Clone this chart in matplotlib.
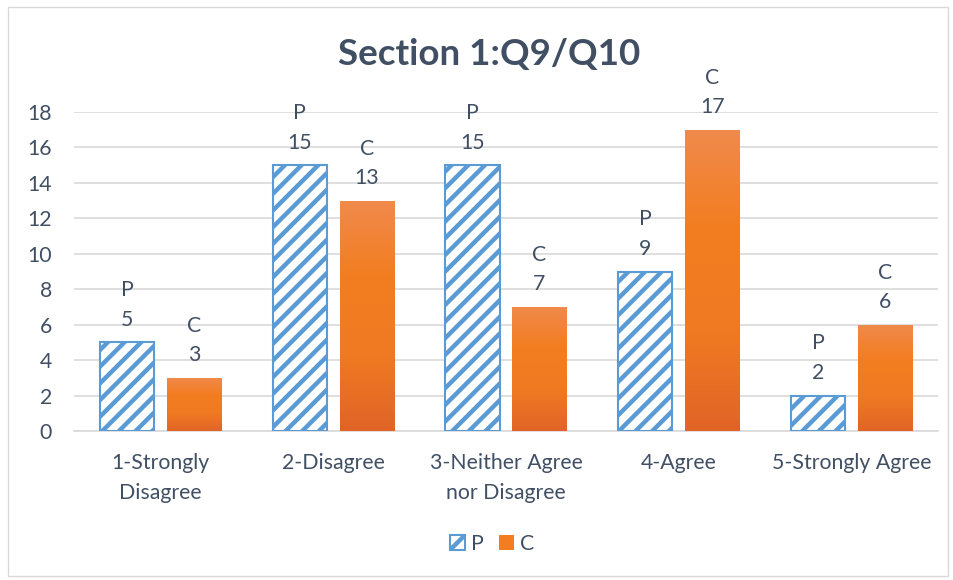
import matplotlib
matplotlib.use("Agg")
import matplotlib.pyplot as plt
import numpy as np
from matplotlib.colors import LinearSegmentedColormap
from matplotlib.patches import Rectangle, Patch

plt.rcParams['font.family'] = ['Lato', 'DejaVu Sans']
plt.rcParams['hatch.linewidth'] = 3.2

categories = ["1-Strongly\nDisagree", "2-Disagree", "3-Neither Agree\nnor Disagree",
              "4-Agree", "5-Strongly Agree"]
p_values = [5, 15, 15, 9, 2]
c_values = [3, 13, 7, 17, 6]
series_names = ["P", "C"]
yticks = [0, 2, 4, 6, 8, 10, 12, 14, 16, 18]

text_color = "#404F63"
blue = "#5B9BD5"
grid_color = "#D9D9D9"
fs = 15.3

fig = plt.figure(figsize=(9.54, 5.8), dpi=100)
fig.patch.set_facecolor("white")
fig.patches.append(Rectangle((8 / 954, 4 / 580), 940 / 954, 569 / 580,
                             transform=fig.transFigure, fill=False,
                             edgecolor="#D9D9D9", linewidth=1.0))

ax = fig.add_axes([74 / 954, 149 / 580, 864 / 954, 319 / 580])
x = np.arange(len(categories))
width = 0.313
offset = 0.194

p_bars = ax.bar(x - offset, p_values, width, facecolor="white", edgecolor=blue,
                hatch="//", linewidth=1.5, label=series_names[0], zorder=3)
c_bars = ax.bar(x + offset, c_values, width, facecolor="none", edgecolor="none",
                label=series_names[1], zorder=3)

# vertical gradient fill for each C bar
orange_cmap = LinearSegmentedColormap.from_list(
    "orange_grad", ["#E16427", "#F07A22", "#F37D20", "#F08A4C"])
grad = np.linspace(0, 1, 256).reshape(-1, 1)
for bar in c_bars:
    bx, by = bar.get_x(), bar.get_y()
    bw, bh = bar.get_width(), bar.get_height()
    im = ax.imshow(grad, cmap=orange_cmap, origin="lower", aspect="auto",
                   extent=[bx, bx + bw, by, by + bh], zorder=3,
                   interpolation="bilinear")
    im.set_clip_path(bar)

# labels above bars
for bars, vals, name in [(p_bars, p_values, "P"), (c_bars, c_values, "C")]:
    for bar, v in zip(bars, vals):
        ax.annotate(f"{name}\n{v}", (bar.get_x() + bar.get_width() / 2, v),
                    xytext=(0, 9), textcoords="offset points",
                    ha="center", va="bottom", fontsize=fs, color=text_color,
                    linespacing=1.6)

ax.set_xlim(-0.5, len(categories) - 0.5)
ax.set_ylim(0, 18)
ax.set_yticks(yticks)
ax.set_xticks(x)
ax.set_xticklabels(categories, linespacing=1.6)
ax.tick_params(axis="both", length=0, labelsize=fs, labelcolor=text_color)
ax.tick_params(axis="y", pad=16)
ax.tick_params(axis="x", pad=16)
ax.yaxis.grid(True, color=grid_color, linewidth=1.2, zorder=0)
ax.set_axisbelow(True)
for s in ["top", "right", "left"]:
    ax.spines[s].set_visible(False)
ax.spines["bottom"].set_color(grid_color)
ax.spines["bottom"].set_linewidth(1.2)

fig.text(489 / 954, 1 - 55 / 580, "Section 1:Q9/Q10", ha="center", va="center",
         fontsize=26.5, fontweight="bold", color=text_color)

# legend with a solid orange swatch for C
handles = [Patch(facecolor="white", edgecolor=blue, hatch="//", linewidth=1.5),
           Patch(facecolor="#F37D20", edgecolor="none")]
leg = fig.legend(handles, series_names, loc="center", bbox_to_anchor=(492 / 954, 1 - 544 / 580),
                 ncol=2, frameon=False, fontsize=fs, handlelength=0.7, handleheight=0.7,
                 columnspacing=0.7, handletextpad=0.3)
for t in leg.get_texts():
    t.set_color(text_color)

fig.savefig("out.png", dpi=100, facecolor="white")
